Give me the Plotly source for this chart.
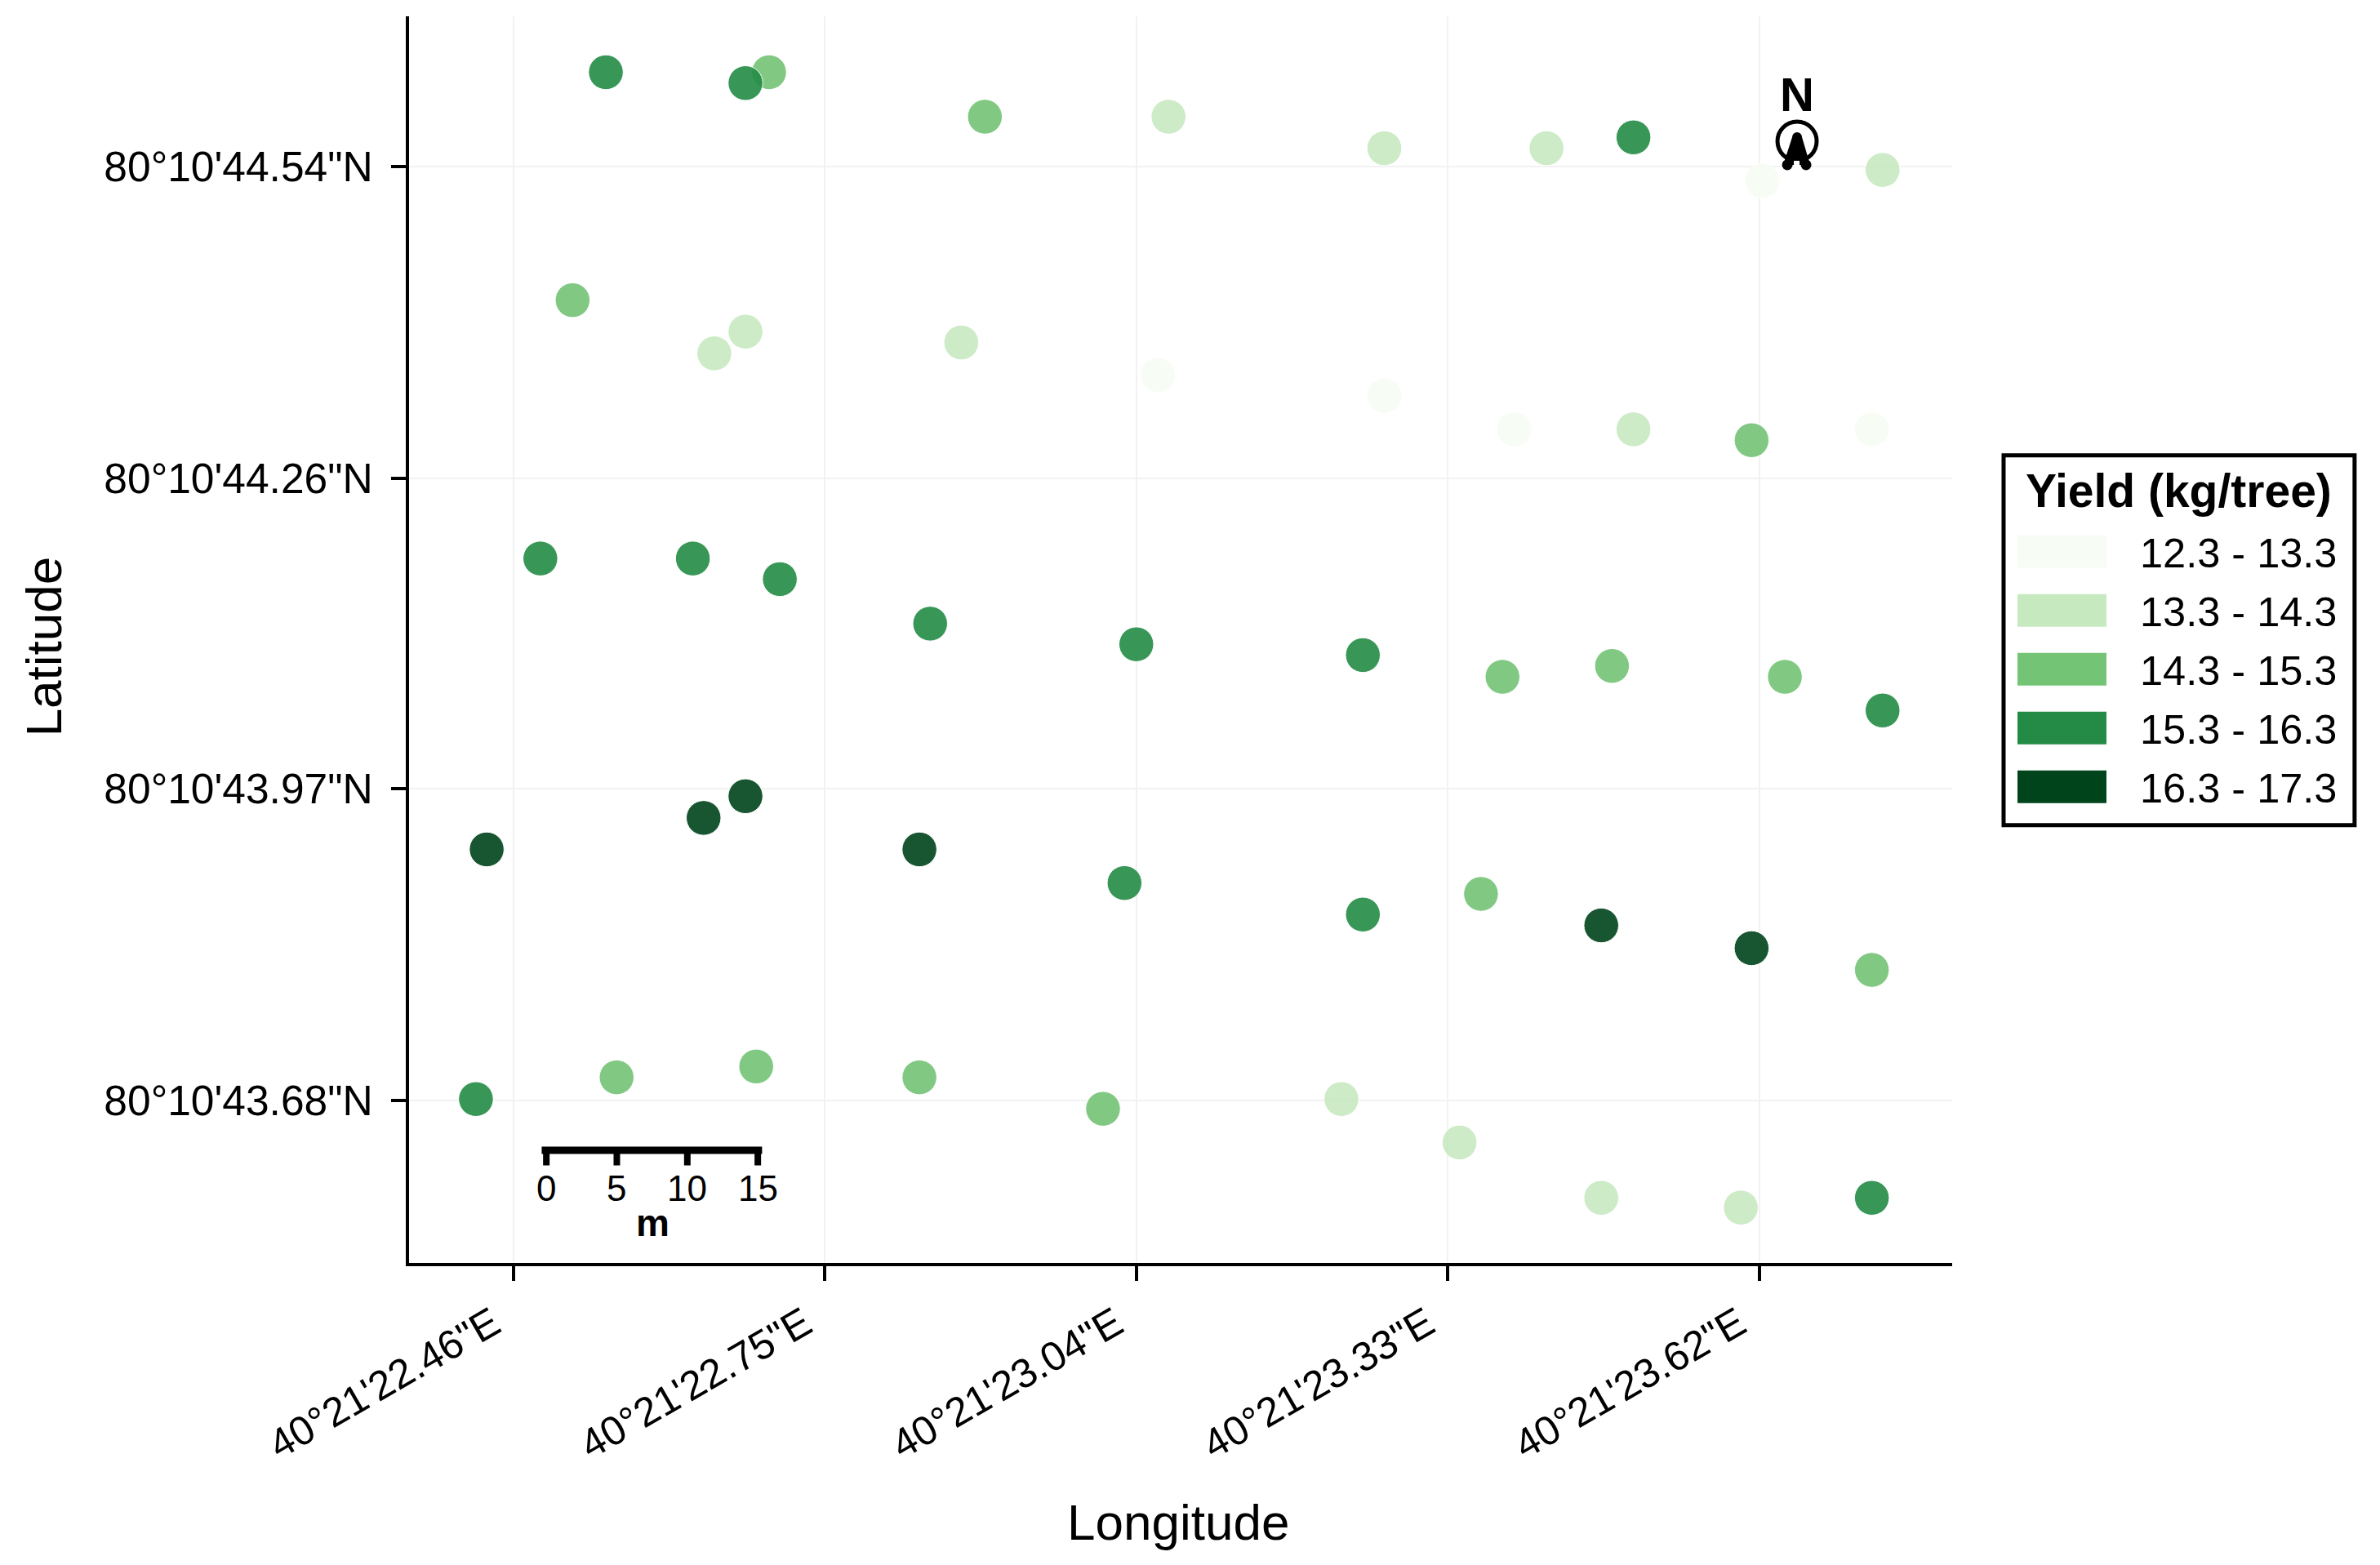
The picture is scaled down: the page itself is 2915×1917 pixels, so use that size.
import numpy as np
import plotly.graph_objects as go

# tree positions, seconds past 40°21' E and 80°10' N
lon_sec = [22.546, 22.698, 22.676, 22.899, 23.070, 23.271, 23.422, 23.503, 23.623, 23.735,
           22.515, 22.647, 22.676, 22.877, 23.060, 23.271, 23.392, 23.503, 23.613, 23.725,
           22.485, 22.627, 22.708, 22.848, 23.040, 23.251, 23.381, 23.483, 23.644, 23.735,
           22.435, 22.637, 22.676, 22.838, 23.029, 23.251, 23.361, 23.473, 23.613, 23.725,
           22.425, 22.556, 22.686, 22.838, 23.009, 23.231, 23.341, 23.473, 23.603, 23.725]
lat_sec = [44.627, 44.627, 44.617, 44.586, 44.586, 44.557, 44.557, 44.567, 44.527, 44.537,
           44.417, 44.368, 44.388, 44.378, 44.348, 44.329, 44.298, 44.298, 44.288, 44.298,
           44.179, 44.179, 44.160, 44.119, 44.100, 44.090, 44.070, 44.080, 44.070, 44.039,
           43.911, 43.940, 43.960, 43.911, 43.880, 43.851, 43.870, 43.841, 43.820, 43.800,
           43.681, 43.701, 43.711, 43.701, 43.672, 43.681, 43.641, 43.590, 43.581, 43.590]
yield_kg = [15.8, 14.8, 15.8, 14.8, 13.8, 13.8, 13.8, 15.8, 12.8, 13.8,
            14.8, 13.8, 13.8, 13.8, 12.8, 12.8, 12.8, 13.8, 14.8, 12.8,
            15.8, 15.8, 15.8, 15.8, 15.8, 15.8, 14.8, 14.8, 14.8, 15.8,
            16.8, 16.8, 16.8, 16.8, 15.8, 15.8, 14.8, 16.8, 16.8, 14.8,
            15.8, 14.8, 14.8, 14.8, 14.8, 13.8, 13.8, 13.8, 13.8, 15.8]

class_edges = [13.3, 14.3, 15.3, 16.3]
class_labels = ["12.3 - 13.3", "13.3 - 14.3", "14.3 - 15.3", "15.3 - 16.3", "16.3 - 17.3"]
class_colors = ["#f7fcf5", "#c7e9c0", "#74c476", "#238b45", "#00441b"]

lon_ticks = [22.46, 22.75, 23.04, 23.33, 23.62]
lon_labels = ["40°21'22.46\"E", "40°21'22.75\"E", "40°21'23.04\"E", "40°21'23.33\"E", "40°21'23.62\"E"]
lat_ticks = [43.68, 43.967, 44.253, 44.54]
lat_labels = ["80°10'43.68\"N", "80°10'43.97\"N", "80°10'44.26\"N", "80°10'44.54\"N"]
scale_m = [0, 5, 10, 15]

W, H = 2915, 1917
PAGE = 8  # browser body margin
LEFT, RIGHT, TOP, BOTTOM = 500.5, 2391, 20, 1547.5
FONT = "Liberation Sans"


def px(x):
    return (x - LEFT) / (RIGHT - LEFT)


def py(y):
    return (BOTTOM - y) / (BOTTOM - TOP)


def rect(x0, y0, x1, y1, fill=None, line=None, width=0):
    return dict(type="rect", xref="paper", yref="paper", x0=px(x0), x1=px(x1), y0=py(y1), y1=py(y0),
                fillcolor=fill or "rgba(0,0,0,0)", line=dict(color=line or "rgba(0,0,0,0)", width=width))


def circle(cx, cy, r, fill=None, line=None, width=0):
    return dict(type="circle", xref="paper", yref="paper", x0=px(cx - r), x1=px(cx + r), y0=py(cy + r), y1=py(cy - r),
                fillcolor=fill or "rgba(0,0,0,0)", line=dict(color=line or "rgba(0,0,0,0)", width=width))


def label(x, y, text, size, bold=False, anchor="center", angle=0):
    return dict(xref="paper", yref="paper", x=px(x), y=py(y), text=f"<b>{text}</b>" if bold else text,
                showarrow=False, xanchor=anchor, yanchor="middle", textangle=angle,
                font=dict(family=FONT, size=size, color="black"))


colors = [class_colors[i] for i in np.digitize(yield_kg, class_edges)]

fig = go.Figure(go.Scatter(
    x=lon_sec, y=lat_sec, mode="markers",
    marker=dict(size=42.5, color=colors, opacity=0.9, line=dict(color="white", width=1)),
    showlegend=False,
))

shapes = []
annotations = []

# axis titles
annotations.append(label(1443, 1865, "Longitude", 62))
annotations.append(label(53, 792, "Latitude", 62, angle=-90))

# legend box
shapes.append(rect(2454, 558, 2884, 1011, fill="white", line="black", width=5))
annotations.append(label(2669, 601, "Yield (kg/tree)", 57, bold=True))
for i, (name, col) in enumerate(zip(class_labels, class_colors)):
    yc = 676 + i * 72
    shapes.append(rect(2471, yc - 20, 2580, yc + 20, fill=col))
    annotations.append(label(2619, yc + 2, name, 50.5, anchor="left"))

# scale bar
shapes.append(rect(663, 1405, 933, 1414, fill="black"))
for m in scale_m:
    xm = 668.7 + m * 17.27
    shapes.append(rect(xm - 4, 1408, xm + 4, 1428, fill="black"))
    annotations.append(label(xm, 1456, str(m), 44))
annotations.append(label(799, 1498, "m", 46, bold=True))

# north arrow
annotations.append(label(2201, 116, "N", 58, bold=True))
shapes.append(circle(2201, 173, 24, line="black", width=5))
arrow_path = "M {} {} L {} {} L {} {} L {} {} Z".format(
    px(2195), py(168), px(2184), py(202), px(2217), py(202), px(2207), py(168))
shapes.append(dict(type="path", xref="paper", yref="paper", path=arrow_path, fillcolor="black", line=dict(width=0)))
shapes.append(circle(2201, 168, 6, fill="black"))
shapes.append(circle(2189, 202, 6.5, fill="black"))
shapes.append(circle(2212, 202, 6.5, fill="black"))
shapes.append(rect(2197, 197, 2204, 208, fill="white"))

fig.update_layout(
    width=W - 2 * PAGE, height=H - 2 * PAGE,
    margin=dict(l=LEFT - PAGE, r=W - PAGE - RIGHT, t=TOP - PAGE, b=H - PAGE - BOTTOM, autoexpand=False),
    paper_bgcolor="white", plot_bgcolor="white",
    font=dict(family=FONT, color="black"),
    shapes=shapes, annotations=annotations,
)
fig.update_xaxes(
    range=[22.3627, 23.7998], tickvals=lon_ticks, ticktext=lon_labels, tickangle=-30,
    tickfont=dict(size=50, family=FONT, color="black"), ticklabelshift=-25, ticklabelstandoff=4,
    showline=True, linecolor="black", linewidth=4, ticks="outside", ticklen=18, tickwidth=4, tickcolor="black",
    showgrid=True, gridcolor="#f2f2f2", gridwidth=2, zeroline=False,
)
fig.update_yaxes(
    range=[43.5300, 44.6785], tickvals=lat_ticks, ticktext=lat_labels,
    tickfont=dict(size=51.5, family=FONT, color="black"), ticklabelstandoff=12,
    showline=True, linecolor="black", linewidth=4, ticks="outside", ticklen=18, tickwidth=4, tickcolor="black",
    showgrid=True, gridcolor="#f2f2f2", gridwidth=2, zeroline=False,
)

fig.write_html("out.html")
